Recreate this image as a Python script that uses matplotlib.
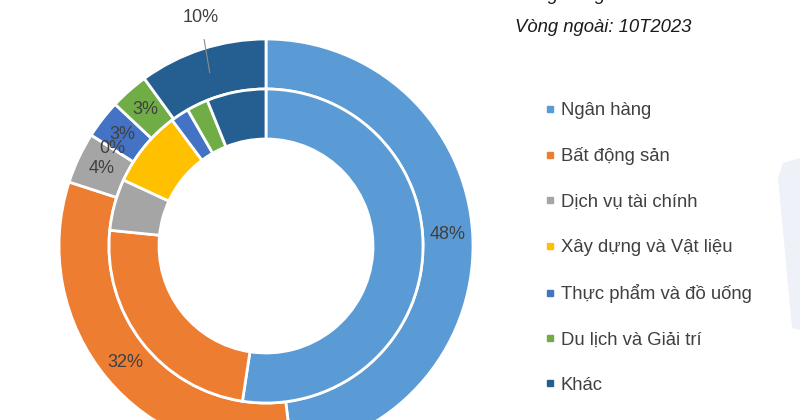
import numpy as np
import matplotlib.pyplot as plt
from matplotlib.lines import Line2D
from matplotlib.patches import Polygon

plt.rcParams["font.family"] = ["Liberation Sans", "DejaVu Sans"]

# Data
categories = [
    "Ngân hàng",
    "Bất động sản",
    "Dịch vụ tài chính",
    "Xây dựng và Vật liệu",
    "Thực phẩm và đồ uống",
    "Du lịch và Giải trí",
    "Khác",
]
inner_2022 = [52.4, 24.2, 5.3, 7.9, 1.9, 2.2, 6.1]
outer_10t2023 = [48, 32, 4, 0, 3, 3, 10]
outer_labels = ["48%", "32%", "4%", "0%", "3%", "3%", "10%"]
colors = ["#5B9BD5", "#ED7D31", "#A5A5A5", "#FFC000", "#4472C4", "#70AD47", "#255E91"]

W, H = 800, 420
fig = plt.figure(figsize=(8, 4.2), dpi=100)
ax = fig.add_axes([0, 0, 1, 1])
ax.set_xlim(0, W)
ax.set_ylim(0, H)
ax.set_aspect("equal")
ax.axis("off")

# faint decorative shape at right edge
ax.add_patch(Polygon([(778, H - 178), (783, H - 163), (800, H - 158), (800, H - 330), (792, H - 328)],
                     closed=True, facecolor="#EEF1F8", edgecolor="none", zorder=0))

center = (266, H - 246)
r_out, r_mid, width = 207, 157, 50
wp = dict(width=width, edgecolor="white", linewidth=2)

outer_wedges, _ = ax.pie(outer_10t2023, radius=r_out, center=center, colors=colors,
                         startangle=90, counterclock=False, wedgeprops=wp, normalize=True)
ax.pie(inner_2022, radius=r_mid, center=center, colors=colors,
       startangle=90, counterclock=False, wedgeprops=wp, normalize=True)
ax.set_xlim(0, W)
ax.set_ylim(0, H)

# percentage labels on the outer ring
r_lab = 182
for w, lab in zip(outer_wedges, outer_labels):
    ang = np.deg2rad((w.theta1 + w.theta2) / 2)
    x = center[0] + r_lab * np.cos(ang)
    y = center[1] + r_lab * np.sin(ang)
    if lab == "10%":
        tx = center[0] + 238 * np.cos(np.deg2rad(106))
        ty = center[1] + 238 * np.sin(np.deg2rad(106))
        ax.annotate(lab, xy=(x, y), xytext=(tx, ty), ha="center", va="center",
                    fontsize=13, color="#404040",
                    arrowprops=dict(arrowstyle="-", color="#8C8C8C", lw=0.8,
                                    shrinkA=8, shrinkB=0))
    else:
        ax.text(x, y, lab, ha="center", va="center", fontsize=13, color="#404040")

# ring captions
ax.text(515, H + 4, "Vòng trong: 2022", ha="left", va="center", fontsize=13.3,
        style="italic", color="#1a1a1a", clip_on=False)
ax.text(515, H - 28, "Vòng ngoài: 10T2023", ha="left", va="center", fontsize=13.3,
        style="italic", color="#1a1a1a")

# legend
handles = [Line2D([], [], marker="s", linestyle="none", markersize=5,
                  markerfacecolor=c, markeredgecolor=c) for c in colors]
leg = ax.legend(handles, categories, loc="upper left", bbox_to_anchor=(535 / W, 1 - 93 / H),
                frameon=False, fontsize=13.3, labelspacing=1.53, handlelength=0.6,
                handletextpad=0.3, borderpad=0)
for t in leg.get_texts():
    t.set_color("#404040")

fig.savefig("out.png", dpi=100, facecolor="white")
